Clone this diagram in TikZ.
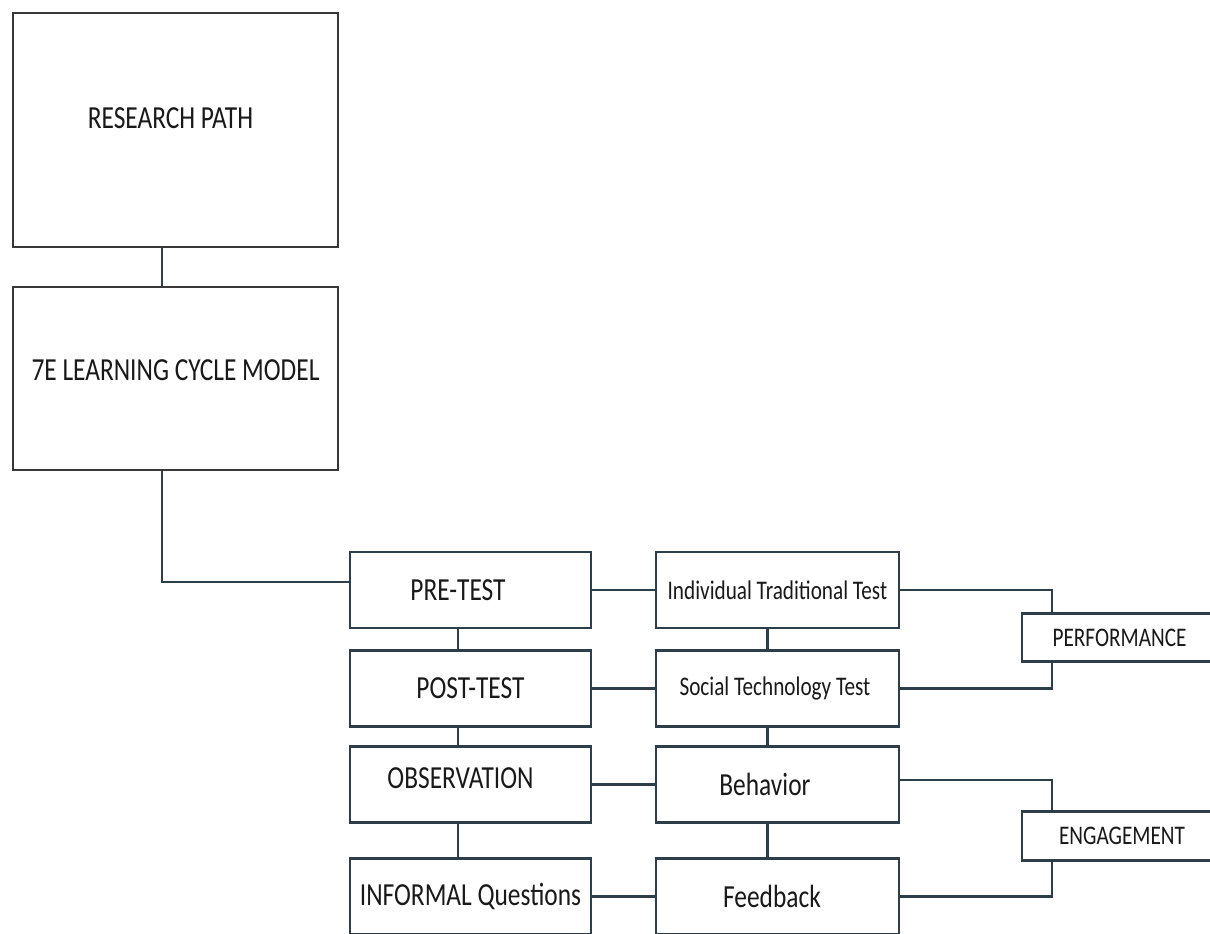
\documentclass[tikz,border=0pt]{standalone}
\usepackage{fontspec}
\setmainfont[FakeStretch=0.79]{Carlito}
\usetikzlibrary{positioning}
\definecolor{boxline}{HTML}{2E3E48}
\definecolor{topline}{HTML}{383838}
\tikzset{%
  % Specifications for style of nodes:
         base/.style = {rectangle, draw=boxline, line width=1.5pt, fill=white,
                        text=black!90, inner sep=0pt,
                        font=\fontsize{18.3}{21}\selectfont},
      headbox/.style = {base, draw=topline, line width=1.1pt, minimum width=6.5cm},
      stepbox/.style = {base, minimum width=4.82cm, minimum height=1.52cm},
    aspectbox/.style = {stepbox, minimum width=4.86cm},
      testbox/.style = {aspectbox, font=\fontsize{15.3}{18}\selectfont},
    resultbox/.style = {base, minimum width=4cm, minimum height=0.97cm,
                        font=\fontsize{15.3}{18}\selectfont},
         link/.style = {draw=boxline, line width=1.5pt},
}

\begin{document}
\begin{tikzpicture}[x=0.02cm, y=-0.02cm]
\useasboundingbox (0,0) rectangle (1210,933);
\clip (0,0) rectangle (1210,933);

\node (RP)     [headbox, minimum height=4.68cm] at (175.5,130)   {\raisebox{0.48cm}{RESEARCH PATH\hspace*{0.2cm}}};

\node (LCM)    [headbox, minimum height=3.66cm, node distance=4.97cm, below of=RP]   {\raisebox{0.32cm}{7E LEARNING CYCLE MODEL}};

% methods
\node (PRE)    [stepbox] at (470.5,590)                           {PRE-TEST\hspace*{0.5cm}};
\node (POST)   [stepbox, node distance=1.97cm, below of=PRE]      {POST-TEST};
\node (OBS)    [stepbox, node distance=1.92cm, below of=POST]     {\raisebox{0.24cm}{OBSERVATION\hspace*{0.4cm}}};
\node (INF)    [stepbox, node distance=2.24cm, below of=OBS]      {INFORMAL Questions};

% instruments
\node (ITT)    [testbox, node distance=6.14cm, right of=PRE]      {Individual Traditional Test};
\node (STT)    [testbox, node distance=6.14cm, right of=POST]     {\hspace*{0.1cm}Social Technology Test\hspace*{0.2cm}};
\node (BEH)    [aspectbox, node distance=6.14cm, right of=OBS]    {Behavior\hspace*{0.5cm}};
\node (FB)     [aspectbox, node distance=6.14cm, right of=INF]    {Feedback\hspace*{0.22cm}};

% outcomes
\node (PERF)   [resultbox] at (1122,637.5)                        {PERFORMANCE\hspace*{0.1cm}};
\node (ENG)    [resultbox] at (1122,836)                          {ENGAGEMENT};

\draw[link] ([xshift=-0.27cm]RP.south) -- ([xshift=-0.27cm]LCM.north);
\draw[link] ([xshift=-0.27cm]LCM.south) |- ([yshift=0.16cm]PRE.west);

\draw[link] ([xshift=-0.25cm]PRE.south) -- ([xshift=-0.25cm]POST.north);
\draw[link] ([xshift=-0.25cm]POST.south) -- ([xshift=-0.25cm]OBS.north);
\draw[link] ([xshift=-0.25cm]OBS.south) -- ([xshift=-0.25cm]INF.north);

\draw[link] ([xshift=-0.2cm]ITT.south) -- ([xshift=-0.2cm]STT.north);
\draw[link] ([xshift=-0.2cm]STT.south) -- ([xshift=-0.2cm]BEH.north);
\draw[link] ([xshift=-0.2cm]BEH.south) -- ([xshift=-0.2cm]FB.north);

\draw[link] (PRE) -- (ITT);
\draw[link] (POST) -- (STT);
\draw[link] (OBS) -- (BEH);
\draw[link] (INF) -- (FB);

\draw[link] (ITT.east) -| ([xshift=-1.4cm]PERF.north);
\draw[link] (STT.east) -| ([xshift=-1.4cm]PERF.south);
\draw[link] ([yshift=0.09cm]BEH.east) -| ([xshift=-1.4cm]ENG.north);
\draw[link] (FB.east) -| ([xshift=-1.4cm]ENG.south);
\end{tikzpicture}
\end{document}
